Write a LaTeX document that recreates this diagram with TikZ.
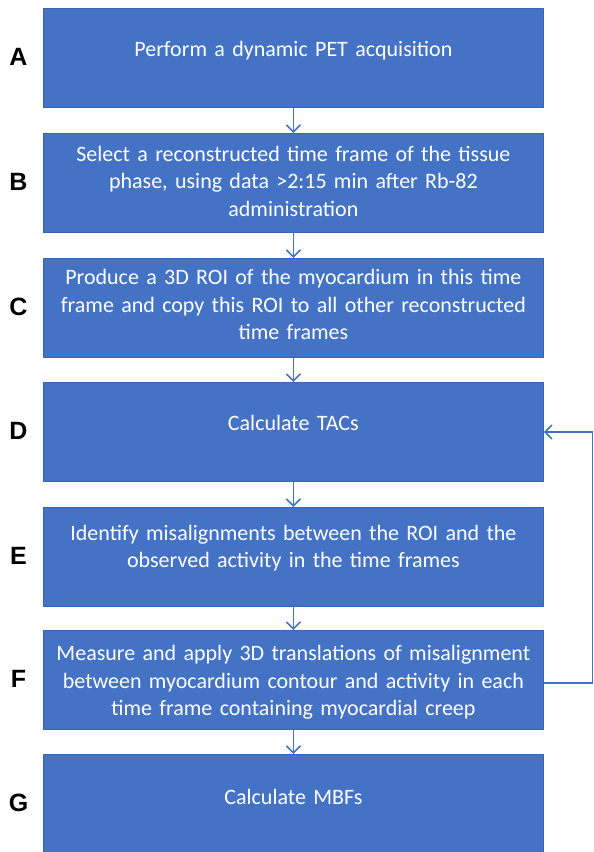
\documentclass[tikz,border=0pt]{standalone}
\usepackage{fontspec}
\setmainfont{Carlito}
\newfontfamily\lblfont{Liberation Sans}
\usetikzlibrary{arrows.meta}
\definecolor{boxblue}{HTML}{4472C4}
\definecolor{boxedge}{HTML}{3A64B0}
\begin{document}
\begin{tikzpicture}[x=1pt,y=-1pt,
  stepbox/.style={draw=boxedge, line width=0.8pt, fill=boxblue,
    minimum width=500pt, minimum height=99pt, inner sep=0pt, anchor=north west},
  steptext/.style={text=white, text width=495pt, align=center,
    font=\fontsize{22}{27.5}\selectfont, inner sep=0pt},
  letter/.style={font=\lblfont\bfseries\fontsize{25}{30}\selectfont, text=black, inner sep=0pt},
  conn/.style={draw=boxblue, line width=1.6pt, -{Straight Barb[length=7pt,width=14pt,line width=1.6pt]}}]
\useasboundingbox (0,0) rectangle (594,852);
\node[stepbox] (A) at (43,8) {};
\node[stepbox] (B) at (43,133) {};
\node[stepbox] (C) at (43,258) {};
\node[stepbox] (D) at (43,382) {};
\node[stepbox] (E) at (43,507) {};
\node[stepbox] (F) at (43,630) {};
\node[stepbox] (G) at (43,754) {};
\node[steptext] (tA) at ([yshift=7pt]A.center) {Perform a dynamic PET acquisition};
\node[steptext] (tB) at ([yshift=1.5pt]B.center) {Select a reconstructed time frame of the tissue\\phase, using data >2:15 min after Rb-82\\administration};
\node[steptext] (tC) at ([yshift=3pt]C.center) {Produce a 3D ROI of the myocardium in this time\\frame and copy this ROI to all other reconstructed\\time frames};
\node[steptext] (tD) at ([yshift=8.5pt]D.center) {Calculate TACs};
\node[steptext] (tE) at ([yshift=9pt]E.center) {Identify misalignments between the ROI and the\\observed activity in the time frames};
\node[steptext] (tF) at ([yshift=-2.5pt]F.center) {Measure and apply 3D translations of misalignment\\between myocardium contour and activity in each\\time frame containing myocardial creep};
\node[steptext] (tG) at ([yshift=6.5pt]G.center) {Calculate MBFs};
\foreach \n in {A,B,C,D,E,F,G}{\node[letter] (l\n) at ([yshift=1.5pt]18.5,0 |- \n.center) {\n};}
\draw[conn] (A.south) -- (B.north);
\draw[conn] (B.south) -- (C.north);
\draw[conn] (C.south) -- (D.north);
\draw[conn] (D.south) -- (E.north);
\draw[conn] (E.south) -- (F.north);
\draw[conn] (F.south) -- (G.north);
\coordinate (r1) at (592.5,683);
\coordinate (r2) at (592.5,432);
\draw[conn] (F.east |- r1) -- (r1) -- (r2) -- (D.east |- r2);
\end{tikzpicture}
\end{document}
